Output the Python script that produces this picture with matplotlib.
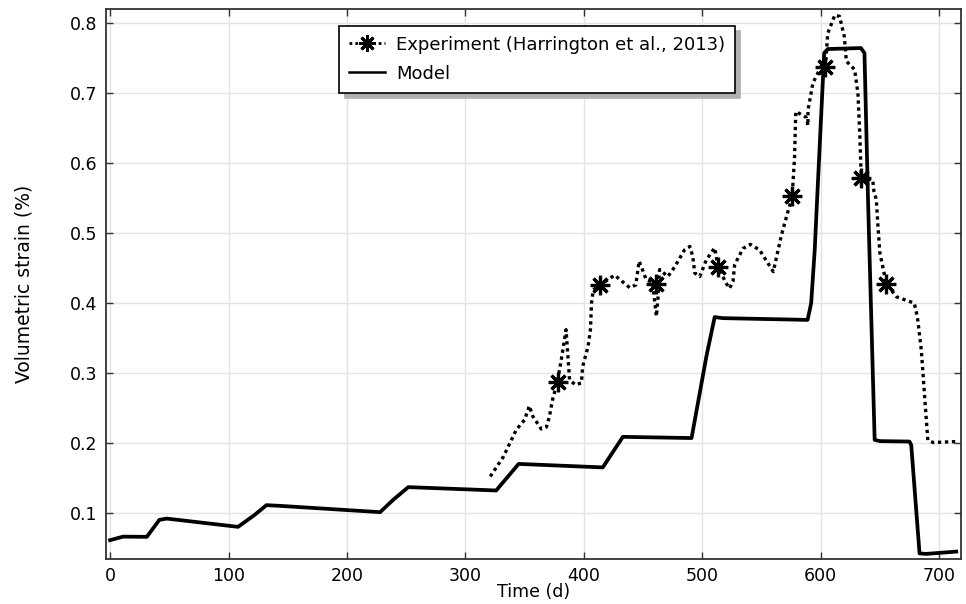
import matplotlib.pyplot as plt
from matplotlib.lines import Line2D

# Model curve (time in days, volumetric strain in %)
model_t = [0, 11, 31, 41.6, 47.8, 108, 122, 132, 143.5, 228, 239, 251.8, 326, 345,
           416, 433, 491, 503.5, 510.5, 517.5, 589, 592, 595, 597, 603, 606, 634,
           637, 640, 645.6, 650, 675, 676.5, 683.5, 689, 714.5]
model_v = [0.061, 0.066, 0.0657, 0.090, 0.0918, 0.080, 0.097, 0.111, 0.110, 0.101,
           0.1186, 0.1368, 0.132, 0.170, 0.165, 0.2087, 0.207, 0.3236, 0.380, 0.3785,
           0.376, 0.40, 0.476, 0.548, 0.7576, 0.7634, 0.7648, 0.7577, 0.548, 0.2044,
           0.2026, 0.202, 0.197, 0.042, 0.0413, 0.0446]

# Experiment (Harrington et al., 2013)
exp_t = [321, 332, 343, 350, 354, 357, 364, 368.5, 371, 373.6, 377.5, 381, 385, 386,
         388, 393, 398, 399, 403.6, 405.6, 406.5, 408, 414, 426, 438.8, 443.9, 446.7,
         449.5, 452.8, 458, 460, 461.3, 462.7, 464, 471, 476.8, 485, 489.5, 492, 493.7,
         497.9, 503.5, 510.5, 513.4, 520, 523, 526, 527.4, 534.4, 540.6, 548.5, 560,
         567, 576, 578, 579, 586.5, 588, 589.3, 589.3, 593.5, 600.6, 604, 606, 612,
         616, 620, 621.7, 628.7, 631.5, 633, 634.3, 644, 645, 647, 648.4, 650, 655.4,
         664, 679, 680.7, 682, 685, 688, 690.5, 695, 715]
exp_v = [0.152, 0.18, 0.219, 0.233, 0.253, 0.238, 0.22, 0.223, 0.238, 0.262, 0.286,
         0.319, 0.362, 0.338, 0.29, 0.283, 0.286, 0.309, 0.338, 0.362, 0.40, 0.419,
         0.426, 0.44, 0.422, 0.426, 0.46, 0.448, 0.433, 0.430, 0.40, 0.381, 0.409,
         0.448, 0.438, 0.452, 0.476, 0.481, 0.467, 0.443, 0.438, 0.462, 0.479, 0.452,
         0.429, 0.421, 0.431, 0.455, 0.478, 0.484, 0.476, 0.445, 0.498, 0.553, 0.61,
         0.674, 0.667, 0.665, 0.654, 0.676, 0.715, 0.739, 0.737, 0.786, 0.812, 0.81,
         0.781, 0.746, 0.734, 0.70, 0.643, 0.579, 0.576, 0.56, 0.548, 0.51, 0.472,
         0.428, 0.409, 0.40, 0.388, 0.376, 0.333, 0.262, 0.204, 0.2006, 0.202]

# marked experiment points
mark_t = [378, 414, 461, 513, 576, 604, 634, 655.5]
mark_v = [0.287, 0.426, 0.428, 0.452, 0.553, 0.737, 0.579, 0.428]

plt.rcParams['font.family'] = 'DejaVu Sans'
plt.rcParams['font.size'] = 12

fig = plt.figure(figsize=(9.66, 6.04), dpi=100)
ax = fig.add_axes([0.1097, 0.0745, 0.8851, 0.911])

star = (8, 2, 0)
ax.plot(exp_t, exp_v, color='black', linestyle=(0, (1, 1.1)), linewidth=2.4)
ax.plot(mark_t, mark_v, linestyle='none', marker=star, markersize=14,
        markeredgewidth=2.3, color='black')
ax.plot(model_t, model_v, color='black', linewidth=2.7)

ax.set_xlim(-3.5, 718.5)
ax.set_ylim(0.034, 0.821)
ax.set_xticks([0, 100, 200, 300, 400, 500, 600, 700])
ax.set_yticks([0.1, 0.2, 0.3, 0.4, 0.5, 0.6, 0.7, 0.8])
ax.grid(True, color='#e4e4e4', linewidth=1.0)
ax.set_axisbelow(True)
ax.tick_params(direction='in', top=True, right=True, length=5, width=1,
               color='#333333', labelsize=12.5, pad=6)
for s in ax.spines.values():
    s.set_color('#333333')
    s.set_linewidth(1.3)

ax.set_xlabel('Time (d)', fontsize=12.5, labelpad=-2)
ax.set_ylabel('Volumetric strain (%)', fontsize=13.5, labelpad=26)

handles = [
    Line2D([], [], color='black', linestyle=(0, (1, 1.1)), linewidth=2.0,
           marker=star, markersize=12, markeredgewidth=2.0),
    Line2D([], [], color='black', linewidth=1.8),
]
leg = ax.legend(handles, ['Experiment (Harrington et al., 2013)', 'Model'],
                loc='upper left', bbox_to_anchor=(0.2725, 0.969), fontsize=13,
                fancybox=False, framealpha=1, edgecolor='black',
                shadow={'ox': 4, 'oy': -4, 'color': '#b0b0b0', 'alpha': 1},
                handlelength=2.0, borderpad=0.55, labelspacing=0.6,
                handletextpad=0.6, borderaxespad=0)
leg.get_frame().set_linewidth(1.2)

fig.savefig('out.png', dpi=100)
